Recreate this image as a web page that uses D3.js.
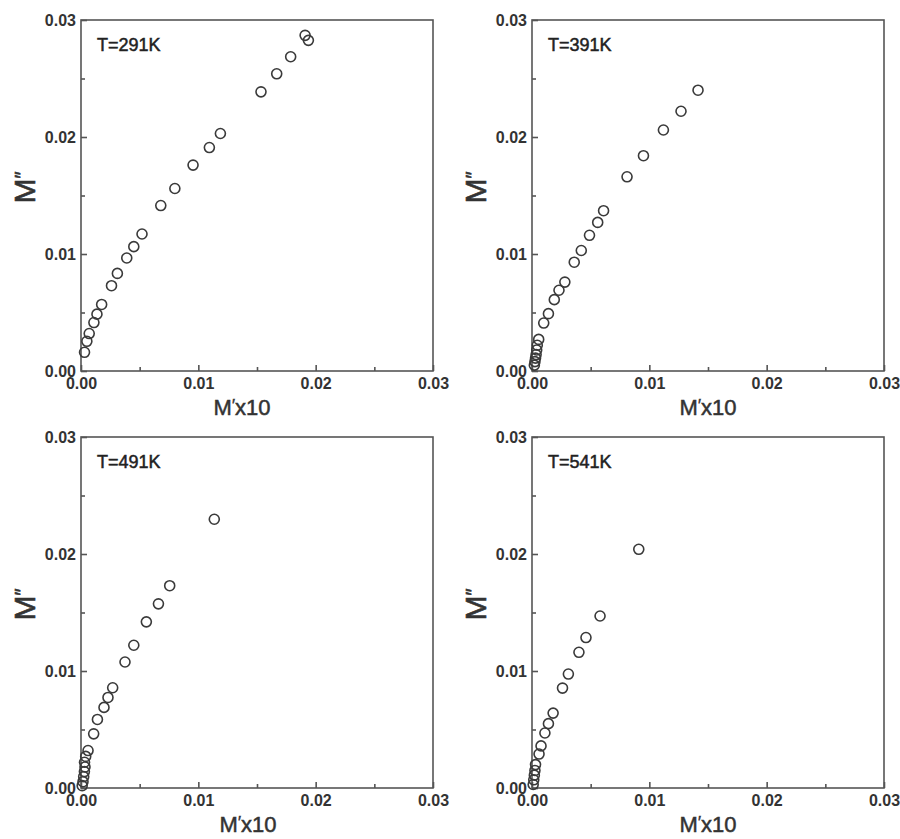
<!DOCTYPE html>
<html>
<head>
<meta charset="utf-8">
<script src="https://cdn.jsdelivr.net/npm/d3@7"></script>
<style>
  body { margin: 0; background: #fff; }
  svg { display: block; }
  text { font-family: "Liberation Sans", Arial, sans-serif; }
</style>
</head>
<body>
<svg id="chart" width="900" height="839"></svg>
<script>
// ---- data (M'x10 , M'') ----
const titles = ["T=291K", "T=391K", "T=491K", "T=541K"];
const tickValues = [0, 0.01, 0.02, 0.03];
const minorTickValues = [0.005, 0.015, 0.025];

const x291 = [0.0003, 0.0005, 0.0007, 0.0011, 0.00136, 0.00176, 0.0026, 0.0031, 0.0039, 0.0045, 0.0052, 0.0068, 0.0080, 0.00955, 0.01094, 0.01188, 0.01534, 0.01668, 0.01787, 0.0191, 0.01938];
const y291 = [0.0016, 0.00254, 0.0032, 0.00414, 0.00486, 0.00569, 0.00729, 0.00834, 0.00966, 0.01063, 0.01171, 0.01414, 0.0156, 0.0176, 0.0191, 0.0203, 0.02386, 0.0254, 0.02686, 0.02869, 0.02826];

const x391 = [0.0002, 0.00025, 0.0003, 0.00035, 0.0004, 0.00045, 0.00057, 0.0010, 0.0014, 0.0019, 0.0023, 0.0028, 0.0036, 0.0042, 0.0049, 0.0056, 0.0061, 0.0081, 0.0095, 0.0112, 0.0127, 0.01415];
const y391 = [0.0005, 0.0008, 0.0011, 0.0014, 0.0018, 0.0022, 0.0027, 0.0041, 0.0049, 0.0061, 0.0069, 0.0076, 0.0093, 0.0103, 0.0116, 0.0127, 0.0137, 0.0166, 0.0184, 0.0206, 0.0222, 0.0240];

const x491 = [0.0001, 0.00017, 0.00023, 0.00029, 0.00034, 0.0003, 0.0004, 0.0006, 0.00108, 0.0014, 0.00196, 0.0023, 0.0027, 0.00375, 0.0045, 0.00557, 0.0066, 0.00756, 0.01136];
const y491 = [0.0002, 0.00054, 0.00097, 0.0014, 0.0018, 0.0022, 0.0027, 0.0032, 0.00463, 0.00586, 0.00689, 0.00774, 0.00857, 0.01077, 0.0122, 0.0142, 0.01574, 0.01729, 0.02297];

const x541 = [0.0001, 0.00015, 0.0002, 0.00025, 0.0003, 0.0006, 0.00077, 0.0011, 0.0014, 0.0018, 0.0026, 0.0031, 0.0040, 0.0046, 0.0058, 0.0091];
const y541 = [0.0003, 0.0007, 0.0011, 0.0015, 0.0020, 0.0029, 0.0036, 0.0047, 0.0055, 0.0064, 0.00854, 0.00974, 0.0116, 0.01286, 0.0147, 0.0204];

const seriesX = [x291, x391, x491, x541];
const seriesY = [y291, y391, y491, y541];

// ---- layout ----
const layout = [
  { left: 81,  top: 20,  w: 352, h: 351, xLabelDx: -15 },
  { left: 532, top: 20,  w: 352, h: 351, xLabelDx: 0 },
  { left: 81,  top: 437, w: 352, h: 351, xLabelDx: -9 },
  { left: 532, top: 437, w: 352, h: 351, xLabelDx: 0 }
];

const svg = d3.select("#chart");
const fmt = d3.format(".2f");

layout.forEach((L, i) => {
  const g = svg.append("g").attr("transform", `translate(${L.left},${L.top})`);
  const x = d3.scaleLinear().domain([0, 0.03]).range([0, L.w]);
  const y = d3.scaleLinear().domain([0, 0.03]).range([L.h, 0]);

  // frame
  g.append("rect")
    .attr("x", 0).attr("y", 0).attr("width", L.w).attr("height", L.h)
    .attr("fill", "none").attr("stroke", "#555").attr("stroke-width", 1.6);

  // major axes
  g.append("g").attr("transform", `translate(0,${L.h})`)
    .call(d3.axisBottom(x).tickValues(tickValues).tickFormat(fmt).tickSize(-6).tickPadding(7));
  g.append("g")
    .call(d3.axisLeft(y).tickValues(tickValues).tickFormat(fmt).tickSize(-6).tickPadding(5));
  // minor ticks
  g.append("g").attr("transform", `translate(0,${L.h})`)
    .call(d3.axisBottom(x).tickValues(minorTickValues).tickFormat("").tickSize(-4));
  g.append("g")
    .call(d3.axisLeft(y).tickValues(minorTickValues).tickFormat("").tickSize(-4));

  g.selectAll(".domain").remove();
  g.selectAll(".tick line").attr("stroke", "#555").attr("stroke-width", 1.6);
  g.selectAll(".tick text")
    .attr("fill", "#333")
    .style("font-size", "16px")
    .style("font-weight", "bold");

  // points
  const pts = seriesX[i].map((v, k) => ({ x: v, y: seriesY[i][k] }));
  g.selectAll("circle.pt").data(pts).enter().append("circle")
    .attr("class", "pt")
    .attr("cx", d => x(d.x))
    .attr("cy", d => y(d.y))
    .attr("r", 5)
    .attr("fill", "none")
    .attr("stroke", "#3a3a3a")
    .attr("stroke-width", 1.6);

  // title
  g.append("text")
    .attr("x", 16).attr("y", 31)
    .attr("fill", "#222")
    .attr("stroke", "#222").attr("stroke-width", 0.5)
    .style("font-size", "18px")
    .text(titles[i]);

  // x label
  const xl = g.append("text")
    .attr("x", L.w / 2 + L.xLabelDx).attr("y", L.h + 44)
    .attr("text-anchor", "middle")
    .attr("fill", "#333")
    .attr("stroke", "#333").attr("stroke-width", 0.5)
    .style("font-size", "22px");
  xl.append("tspan").text("M");
  xl.append("tspan").style("font-size", "16px").attr("dy", -4).text("′");
  xl.append("tspan").attr("dy", 4).text("x10");

  // y label
  const yl = g.append("text")
    .attr("transform", `translate(-46,${L.h / 2 + 8}) rotate(-90)`)
    .attr("text-anchor", "start")
    .attr("fill", "#333")
    .attr("stroke", "#333").attr("stroke-width", 0.6)
    .style("font-size", "30px");
  yl.append("tspan").text("M");
  yl.append("tspan").style("font-size", "20px").attr("dy", -6).text("″");
});
</script>
</body>
</html>
